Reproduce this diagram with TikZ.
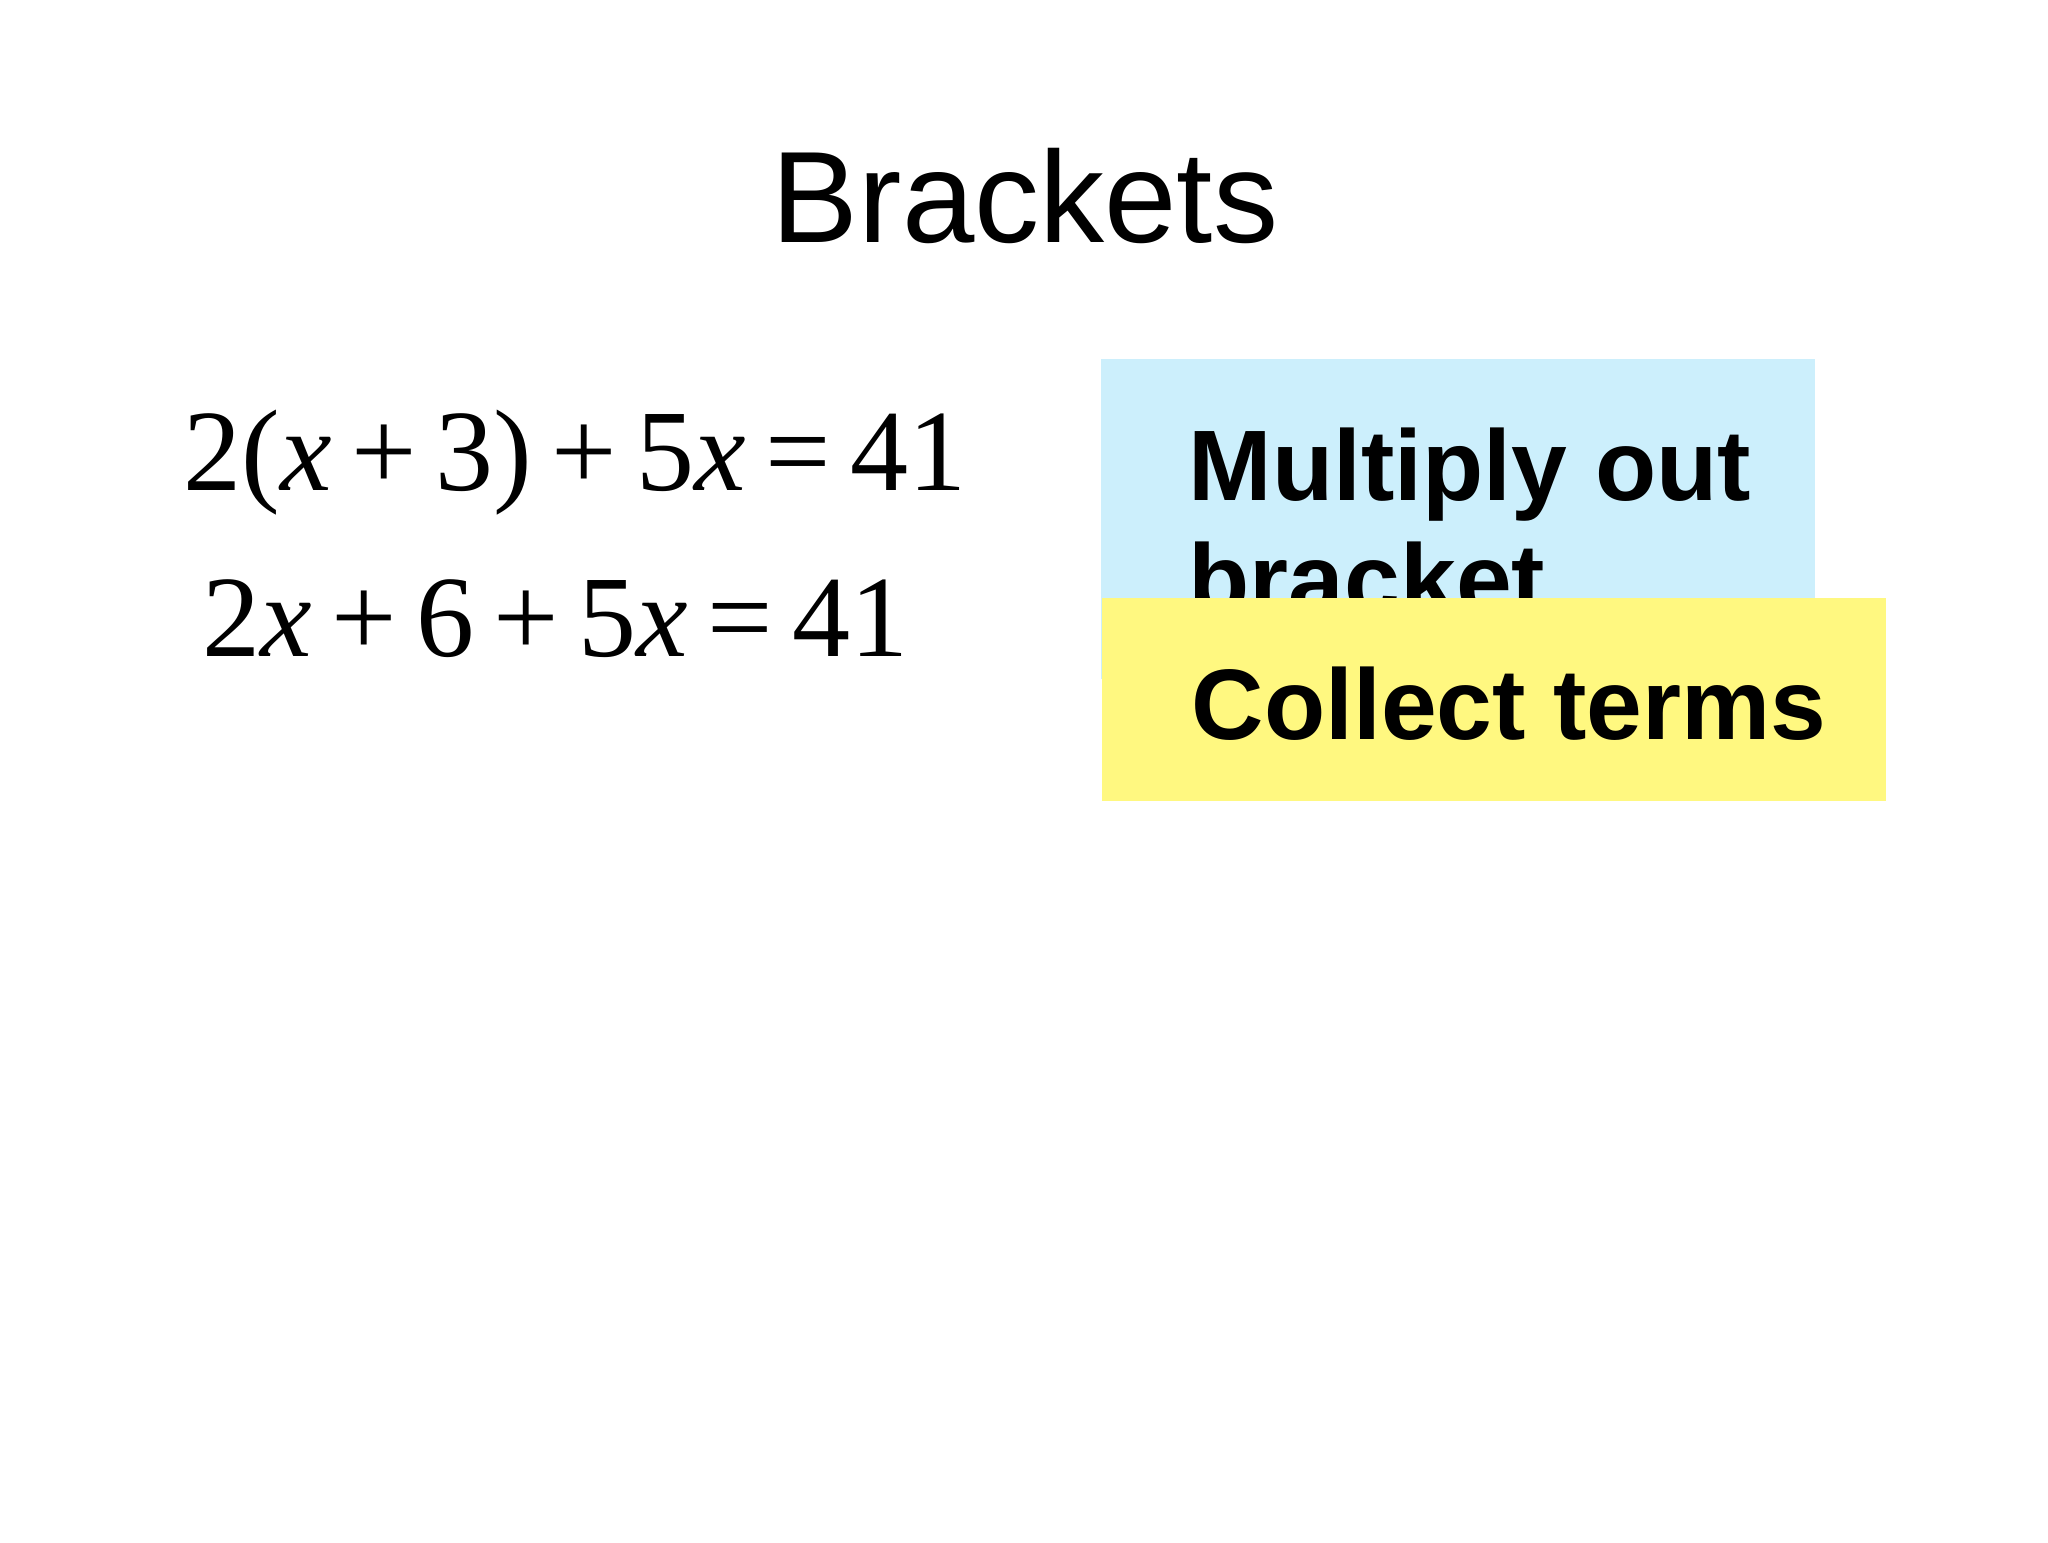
\documentclass[tikz,border=0pt]{standalone}
\usepackage{fontspec}
\setmainfont{Liberation Sans}
\newfontfamily\eqfont{Liberation Serif}
\begin{document}
\begin{tikzpicture}[x=0.01cm,y=-0.01cm,
  eq/.style={anchor=base west,inner sep=0pt,font=\eqfont\fontsize{33}{40}\selectfont},
  lbl/.style={anchor=base west,inner sep=0pt,font=\bfseries\fontsize{28.5}{34}\selectfont}]
\useasboundingbox (0,0) rectangle (2048,1542);
\fill[white] (0,0) rectangle (2048,1542);
\node[anchor=base,inner sep=0pt,font=\fontsize{37}{44}\selectfont] (title) at (1025,242) {Brackets};
\fill[cyan!20] (1101,359) rectangle (1815,679);
\node[lbl] (l1) at (1188,500) {Multiply out};
\node[lbl] (l1b) at (1188,614) {bracket};
\fill[yellow!50] (1102,598) rectangle (1886,801);
\node[lbl] (l2) at (1191,739) {Collect terms};
\node[eq] (e1) at (183,490) {2(\textit{x}\,+\,3)\,+\,5\textit{x}\,=\,41};
\node[eq] (e2) at (202,656) {2\textit{x}\,+\,6\,+\,5\textit{x}\,=\,41};
\end{tikzpicture}
\end{document}
